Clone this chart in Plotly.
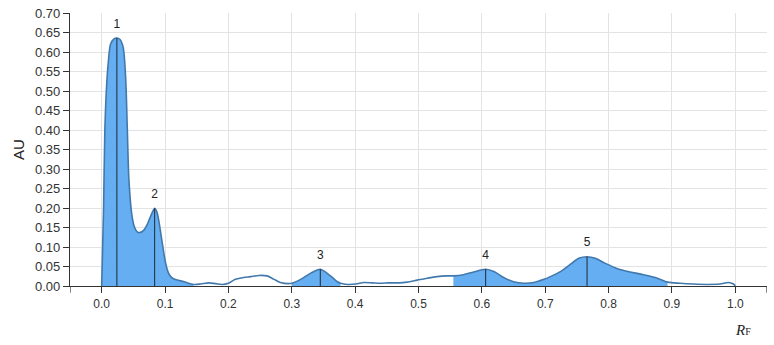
import plotly.graph_objects as go

# Densitogram trace (RF vs AU)
rf = [0.0, 0.003, 0.005, 0.008, 0.0105, 0.014, 0.019, 0.024, 0.029, 0.033, 0.035, 0.038,
      0.0405, 0.043, 0.048, 0.052, 0.056, 0.060, 0.067, 0.072, 0.077, 0.0836, 0.087, 0.090,
      0.0957, 0.101, 0.105, 0.109, 0.114, 0.130, 0.145, 0.156, 0.169, 0.180, 0.190, 0.201,
      0.211, 0.224, 0.235, 0.248, 0.261, 0.272, 0.282, 0.295, 0.300, 0.314, 0.330, 0.345,
      0.361, 0.372, 0.377, 0.388, 0.401, 0.414, 0.427, 0.440, 0.453, 0.469, 0.482, 0.498,
      0.514, 0.529, 0.545, 0.555, 0.571, 0.587, 0.606, 0.619, 0.635, 0.650, 0.666, 0.682,
      0.698, 0.708, 0.724, 0.740, 0.753, 0.766, 0.779, 0.795, 0.813, 0.834, 0.855, 0.877,
      0.893, 0.913, 0.934, 0.955, 0.976, 0.989, 0.997, 1.0]
au = [0.0, 0.20, 0.40, 0.52, 0.575, 0.620, 0.633, 0.636, 0.632, 0.618, 0.600, 0.528,
      0.40, 0.272, 0.178, 0.150, 0.139, 0.137, 0.144, 0.158, 0.178, 0.199, 0.190, 0.169,
      0.109, 0.058, 0.035, 0.024, 0.018, 0.011, 0.004, 0.005, 0.008, 0.006, 0.004, 0.008,
      0.017, 0.022, 0.024, 0.027, 0.026, 0.017, 0.009, 0.006, 0.007, 0.017, 0.033, 0.043,
      0.026, 0.011, 0.007, 0.004, 0.005, 0.009, 0.008, 0.007, 0.008, 0.008, 0.010, 0.015,
      0.020, 0.024, 0.026, 0.026, 0.029, 0.036, 0.043, 0.037, 0.021, 0.011, 0.007, 0.009,
      0.017, 0.024, 0.037, 0.056, 0.071, 0.075, 0.071, 0.058, 0.045, 0.036, 0.029, 0.020,
      0.010, 0.007, 0.005, 0.004, 0.005, 0.009, 0.005, 0.0]

# Integrated (shaded) zones
zones = [(0.0, 0.145), (0.300, 0.377), (0.555, 0.893)]

# Peaks
peak_labels = ["1", "2", "3", "4", "5"]
peak_rf = [0.024, 0.0836, 0.345, 0.606, 0.766]
peak_au = [0.636, 0.199, 0.043, 0.043, 0.075]

x_ticks = [0.0, 0.1, 0.2, 0.3, 0.4, 0.5, 0.6, 0.7, 0.8, 0.9, 1.0]
y_ticks = [round(0.05 * i, 2) for i in range(15)]

FILL = "rgba(92,170,240,0.95)"
LINE = "#4279ad"

fig = go.Figure()
for a, b in zones:
    xs = [x for x in rf if a <= x <= b]
    ys = [y for x, y in zip(rf, au) if a <= x <= b]
    fig.add_trace(go.Scatter(x=xs, y=ys, mode="lines", fill="tozeroy",
                             fillcolor=FILL, line=dict(width=0, shape="spline", smoothing=0.8),
                             hoverinfo="skip", showlegend=False))

fig.add_trace(go.Scatter(x=rf, y=au, mode="lines",
                         line=dict(color=LINE, width=1.6, shape="spline", smoothing=0.8),
                         showlegend=False))

vx, vy = [], []
for px, py in zip(peak_rf, peak_au):
    vx += [px, px, None]
    vy += [0, py, None]
fig.add_trace(go.Scatter(x=vx, y=vy, mode="lines", line=dict(color="#1e2a36", width=1),
                         showlegend=False, hoverinfo="skip"))

fig.add_trace(go.Scatter(x=peak_rf, y=[p + 0.019 for p in peak_au], mode="text",
                         text=peak_labels, textposition="top center",
                         textfont=dict(size=12, color="#222", family="Liberation Sans, Arial"),
                         showlegend=False, hoverinfo="skip"))

# outer ticks of the x domain
for xv in (-0.05, 1.05):
    fig.add_shape(type="line", xref="x", yref="paper", x0=xv, x1=xv, y0=0, y1=-0.025,
                  line=dict(color="#333", width=1.2))

fig.update_layout(
    width=774, height=345,
    margin=dict(l=70, r=7, t=13, b=59),
    paper_bgcolor="white", plot_bgcolor="white",
    font=dict(family="Liberation Sans, Arial", size=12, color="#333"),
    xaxis=dict(range=[-0.05, 1.05], tickvals=x_ticks, ticktext=[f"{v:.1f}" for v in x_ticks],
               showgrid=True, gridcolor="#e3e3e3", gridwidth=1,
               showline=True, linecolor="#333", linewidth=1.2,
               ticks="outside", ticklen=6, tickcolor="#333", zeroline=False,
               tickfont=dict(size=12, color="#333")),
    yaxis=dict(range=[0, 0.70], tickvals=y_ticks, ticktext=[f"{v:.2f}" for v in y_ticks],
               showgrid=True, gridcolor="#e3e3e3", gridwidth=1,
               showline=True, linecolor="#333", linewidth=1.2,
               ticks="outside", ticklen=6, tickcolor="#333", zeroline=False,
               tickfont=dict(size=13, color="#333"),
               title=dict(text="AU", font=dict(size=15, color="#222"), standoff=6)),
    annotations=[dict(text="<i>R</i><span style='font-size:10px'>F</span>",
                      xref="paper", yref="paper", x=0.98, y=-0.16, xanchor="right",
                      yanchor="middle", showarrow=False,
                      font=dict(size=15, color="#222", family="Liberation Serif, Times New Roman"))],
)

fig.write_html("out.html")
